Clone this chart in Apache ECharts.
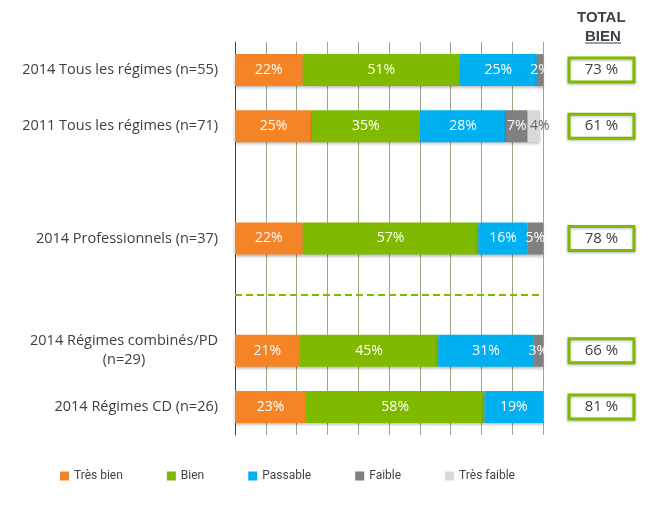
<!DOCTYPE html>
<html><head><meta charset="utf-8">
<script src="https://cdn.jsdelivr.net/npm/echarts@6/dist/echarts.min.js"></script>
<style>html,body{margin:0;padding:0;background:#fff}#c{width:670px;height:506px}</style>
</head><body><div id="c"></div>
<script>
const categories = ['2014 Tous les régimes (n=55)', '2011 Tous les régimes (n=71)', '', '2014 Professionnels (n=37)', ' ', '2014 Régimes combinés/PD\n(n=29)', '2014 Régimes CD (n=26)'];
const seriesNames = ['Très bien', 'Bien', 'Passable', 'Faible', 'Très faible'];
const tresBien   = [22, 25, null, 22, null, 21, 23];
const bien       = [51, 35, null, 57, null, 45, 58];
const passable   = [25, 28, null, 16, null, 31, 19];
const faible     = [2, 7, null, 5, null, 3, null];
const tresFaible = [null, 4, null, null, null, null, null];
const totalBien  = [73, 61, null, 78, null, 66, 81];
const separatorIndex = 4;

const colors = ['#F58426', '#7FBA00', '#00B0F0', '#808080', '#D9D9D9'];
const labelColors = ['#fff', '#fff', '#fff', '#fff', '#666'];
const labelOffsets = [[0, 0], [0, 0], [0, 0], [0, 0], [6, 0]];
const values = [tresBien, bien, passable, faible, tresFaible];
const font = 'Open Sans';

const barSeries = seriesNames.map((name, i) => {
  const s = {
    name, type: 'bar', stack: 'total', barWidth: 32,
    xAxisIndex: 0, yAxisIndex: 0,
    data: values[i],
    itemStyle: { color: colors[i], shadowColor: 'rgba(0,0,0,0.3)', shadowBlur: 3, shadowOffsetY: 2 },
    label: { show: true, position: 'inside', color: labelColors[i], fontSize: 14, fontFamily: font,
      offset: labelOffsets[i],
      formatter: p => (p.value == null ? '' : p.value + '%') }
  };
  if (i === 0) {
    s.markLine = { silent: true, symbol: 'none', label: { show: false },
      lineStyle: { color: '#7FBA00', type: [7, 4], width: 2 },
      data: [{ yAxis: separatorIndex }] };
  }
  return s;
});

const chart = echarts.init(document.getElementById('c'));
chart.setOption({
  animation: false,
  grid: [
    { left: 235, right: 127, top: 42, bottom: 71 },
    { left: 567.5, width: 68, top: 42, bottom: 71 }
  ],
  xAxis: [
    { gridIndex: 0, type: 'value', min: 0, max: 100, interval: 10,
      axisLabel: { show: false }, axisLine: { show: false }, axisTick: { show: false },
      splitLine: { show: true, lineStyle: { color: '#9aa88a', width: 1 } } },
    { gridIndex: 1, type: 'value', min: 0, max: 1, show: false }
  ],
  yAxis: [
    { gridIndex: 0, type: 'category', inverse: true, data: categories,
      axisLine: { show: true, lineStyle: { color: '#444', width: 1 } },
      axisTick: { show: false },
      axisLabel: { color: '#404040', fontSize: 14.5, fontFamily: font, margin: 17, lineHeight: 19,
        formatter: v => v.indexOf('\n') >= 0 ? v.split('\n').map(l => '{c|' + l + '}').join('\n') : v,
        rich: { c: { width: 188, align: 'center', fontSize: 14.5, fontFamily: font, color: '#404040', lineHeight: 19 } } } },
    { gridIndex: 1, type: 'category', inverse: true, data: categories, show: false }
  ],
  legend: {
    data: seriesNames, left: 60, top: 470, padding: 0, icon: 'rect', itemWidth: 9, itemHeight: 9,
    itemGap: 44, selectedMode: false,
    textStyle: { color: '#444', fontSize: 12, fontFamily: 'Roboto' }
  },
  graphic: [
    { type: 'text', left: 577, top: 10, style: { text: 'TOTAL', font: 'bold 15px "Liberation Sans"', fill: '#3a4148' } },
    { type: 'text', left: 585, top: 29, style: { text: 'BIEN', font: 'bold 15px "Liberation Sans"', fill: '#3a4148' } },
    { type: 'line', shape: { x1: 585, y1: 43, x2: 621, y2: 43 }, style: { stroke: '#3a4148', lineWidth: 1.2 } }
  ],
  series: barSeries.concat([{
    name: 'TOTAL BIEN', type: 'bar', xAxisIndex: 1, yAxisIndex: 1, barWidth: 27,
    data: totalBien.map(v => (v == null ? null : 1)),
    itemStyle: { color: '#fff', borderColor: '#7FBA00', borderWidth: 3,
      shadowColor: 'rgba(0,0,0,0.25)', shadowBlur: 3, shadowOffsetY: 1 },
    label: { show: true, position: 'inside', color: '#404040', fontSize: 15, fontFamily: font,
      formatter: p => totalBien[p.dataIndex] + ' %' }
  }])
});
</script></body></html>
